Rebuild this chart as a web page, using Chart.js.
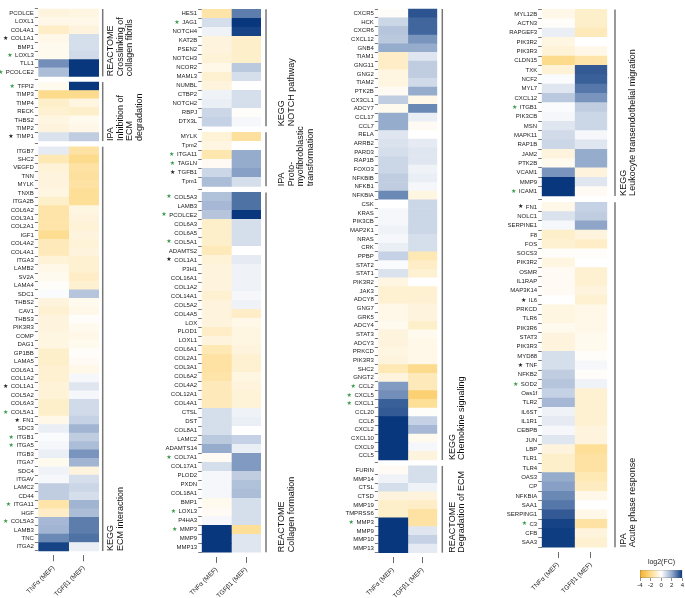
<!DOCTYPE html>
<html><head><meta charset="utf-8">
<script src="https://cdn.jsdelivr.net/npm/chart.js@4.4.1/dist/chart.umd.min.js"></script>
<style>
html,body{margin:0;padding:0;background:#fff;}
#wrap{position:relative;width:685px;height:598px;overflow:hidden;background:#fff;}
canvas{position:absolute;top:0;}
</style></head><body><div id="wrap"></div>
<script>
// ---------- DATA ----------
const colLabels = ['TNFα (MEF)', 'TGFβ1 (MEF)'];
const legendTicks = [-4, -2, 0, 2, 4];
const greenStar = ['LOXL3','PCOLCE2','TFPI2','COL5A1','ITGB1','ITGA5','ITGA11','COL5A3','JAG1','TAGLN','COL7A1','MMP3','CCL2','CXCL5','CXCL1','ICAM1','SOD2','C3'];
const blackStar = ['COL1A1','TIMP1','FN1','TGFB1','IL6','TNF'];

// Panel 1
const crosslinkTitle = ['REACTOME','Crosslinking of','collagen fibrils'];
const crosslinkGenes = ['PCOLCE','LOXL1','COL4A1','COL1A1','BMP1','LOXL3','TLL1','PCOLCE2'];
const crosslinkTNF = [-0.6,-0.4,-1.0,-0.4,-0.3,-0.3,2.5,1.6];
const crosslinkTGF = [-0.5,-0.4,-0.6,0.8,0.8,0.9,4,4];

const inhibTitle = ['IPA','Inhibition of','ECM','degradation'];
const inhibGenes = ['TFPI2','TIMP3','TIMP4','RECK','THBS2','TIMP2','TIMP1'];
const inhibTNF = [-0.3,-2.0,-0.9,-0.8,-0.5,-0.6,0.7];
const inhibTGF = [4,-2.0,-0.5,-0.9,-0.3,-0.4,1.2];

const ecmTitle = ['KEGG','ECM interaction'];
const ecmGenes = ['ITGB7','SHC2','VEGFD','TNN','MYLK','TNXB','ITGA2B','COL6A2','COL3A1','COL2A1','IGF1','COL4A2','COL4A1','ITGA3','LAMB2','SV2A','LAMA4','SDC1','THBS2','CAV1','THBS3','PIK3R3','COMP','DAG1','GP1BB','LAMA5','COL6A1','COL1A2','COL1A1','COL5A2','COL6A3','COL5A1','FN1','SDC3','ITGB1','ITGA5','ITGB3','ITGA7','SDC4','ITGAV','LAMC2','CD44','ITGA11','HGF','COL5A3','LAMB3','TNC','ITGA2'];
const ecmTNF = [0.5,-1.3,-0.7,-0.6,-0.6,-0.5,-0.9,-1.5,-1.5,-1.5,-1.9,-1.2,-1.2,-0.7,-0.4,-0.3,-0.1,0.1,-0.6,-0.8,-0.6,-0.6,-0.5,-0.5,-0.9,-0.9,-0.8,-0.8,-0.7,-0.7,-0.9,-0.9,-0.4,0.4,0.1,0.2,0.4,-0.3,0.3,0.2,1.2,1.2,-1.5,-1.0,1.7,1.8,2.6,3.8];
const ecmTGF = [-1.6,-2.0,-1.6,-1.7,-1.6,-1.8,-1.8,-0.5,-0.6,-0.7,-0.6,-0.7,-0.6,-0.8,-0.8,-1.0,-0.8,1.4,-0.3,-0.4,-0.1,-0.3,-0.4,-0.3,-0.1,-0.2,-0.4,0.2,0.6,0.2,0.9,0.9,1.1,1.8,1.2,1.6,2.4,1.8,-0.6,0.8,1.0,0.8,1.8,1.6,2.8,2.8,3.0,0.4];

// Panel 2
const notchTitle = ['KEGG','NOTCH pathway'];
const notchGenes = ['HES1','JAG1','NOTCH4','KAT2B','PSEN2','NOTCH3','NCOR2','MAML3','NUMBL','CTBP2','NOTCH2','RBPJ','DTX3L'];
const notchTNF = [-1.5,0.8,0.3,-0.6,-0.6,-0.7,-0.4,-0.8,-0.6,0.3,0.4,1.0,1.1];
const notchTGF = [2.8,4,3.8,-0.9,-0.9,-0.9,1.3,0.8,0,0.8,0.8,-0.1,0.2];

const protoTitle = ['IPA','Proto-','myofibroblastic','transformation'];
const protoGenes = ['MYLK','Tpm2','ITGA11','TAGLN','TGFB1','Tpm1'];
const protoTNF = [-0.7,-0.5,-1.4,-0.2,1.0,1.6];
const protoTGF = [-1.7,0,2.0,2.0,2.2,0.8];

const collagenTitle = ['REACTOME','Collagen formation'];
const collagenGenes = ['COL5A3','LAMB3','PCOLCE2','COL6A3','COL6A5','COL5A1','ADAMTS2','COL1A1','P3H1','COL16A1','COL1A2','COL14A1','COL5A2','COL4A5','LOX','PLOD1','LOXL1','COL6A1','COL2A1','COL3A1','COL6A2','COL4A2','COL12A1','COL4A1','CTSL','DST','COL8A1','LAMC2','ADAMTS14','COL7A1','COL17A1','PLOD2','PXDN','COL18A1','BMP1','LOXL3','P4HA3','MMP3','MMP9','MMP13'];
const collagenTNF = [1.5,1.7,1.4,-0.9,-0.9,-0.9,-1.2,-0.7,-0.6,-0.6,-0.6,-0.8,-0.6,-0.6,-0.6,-1.0,-0.6,-1.3,-1.6,-1.6,-1.5,-1.2,-1.2,-1.2,0.8,0.8,0.8,1.3,2.0,-0.2,0.8,0.2,0.2,0.2,-0.3,-0.2,0.2,4,4,4];
const collagenTGF = [3.0,3.0,4,0.8,0.8,0.8,0,0.5,0.3,0.3,0.3,0.2,0.3,-1.0,-0.4,-0.5,-0.5,-0.6,-0.8,-0.8,-0.5,-0.6,-0.7,-0.7,0.3,0.4,0,1.1,0.4,2.3,2.3,1.2,1.5,1.6,0.8,0.8,0.8,-1.8,0.6,0.6];

// Panel 3
const chemoTitle = ['KEGG','Chemokine signaling'];
const chemoGenes = ['CXCR5','HCK','CXCR6','CXCL12','GNB4','TIAM1','GNG11','GNG2','TIAM2','PTK2B','CX3CL1','ADCY7','CCL17','CCL7','RELA','ARRB2','PARD3','RAP1B','FOXO3','NFKBIB','NFKB1','NFKBIA','CSK','KRAS','PIK3CB','MAP2K1','NRAS','CRK','PPBP','STAT2','STAT1','PIK3R2','JAK3','ADCY8','GNG7','GRK5','ADCY4','STAT3','ADCY3','PRKCD','PIK3R3','SHC2','GNGT2','CCL2','CXCL5','CXCL1','CCL20','CCL8','CXCL2','CXCL10','CXCL9','CCL5'];
const chemoTNF = [-0.1,1.0,1.4,1.3,2.0,-1.0,-1.0,-0.5,-0.5,-0.2,1.2,-0.3,2.0,2.0,0.6,0.7,0.8,1.0,1.0,1.2,1.2,2.6,0,0.2,0.2,0.3,0.2,0.4,1.1,0.1,0.7,-0.5,-0.8,-0.8,-0.4,-0.4,-0.3,-0.6,-0.6,-0.5,-0.6,-1.3,-0.6,2.3,2.5,3.3,3.4,4,4,4,4,4];
const chemoTGF = [3.5,3.2,3.2,2.4,2.0,0.6,1.2,1.2,0.9,2.0,-0.4,2.6,0.4,-0.2,0,0.5,0.6,0.6,0.3,0.4,0.2,-0.5,1.0,1.0,1.0,1.0,0.8,0.8,-1.3,-1.0,-0.8,0,-0.8,-0.8,-0.6,-0.6,-0.9,-0.3,-0.4,-0.4,-0.4,-2.0,-1.2,-1.2,-2.5,-1.8,-0.1,1.1,1.7,-0.3,0.2,-0.6];

const degradTitle = ['REACTOME','Degradation of ECM'];
const degradGenes = ['FURIN','MMP14','CTSL','CTSD','MMP19','TMPRSS6','MMP3','MMP9','MMP10','MMP13'];
const degradTNF = [-0.2,0.3,0.8,-0.6,-0.9,-0.9,4,4,4,4];
const degradTGF = [0.8,0.8,0.3,-0.6,-1.0,-1.6,-1.6,0.6,1.1,0.5];

// Panel 4
const leukoTitle = ['KEGG','Leukocyte transendothelial migration'];
const leukoGenes = ['MYL12B','ACTN3','RAPGEF3','PIK3R2','PIK3R3','CLDN15','TXK','NCF2','MYL7','CXCL12','ITGB1','PIK3CB','MSN','MAPK11','RAP1B','JAM2','PTK2B','VCAM1','MMP9','ICAM1'];
const leukoTNF = [-0.4,-0.1,0.4,-0.5,-0.7,-2.0,-0.7,0.1,0.6,1.3,0.1,0.2,0.6,0.9,1.0,-0.6,-0.3,2.4,4,4];
const leukoTGF = [-0.9,-0.9,-1.2,0,-0.4,-1.5,3.4,3.3,2.9,2.4,1.2,1.0,1.0,0.2,0.6,2.0,2.0,-0.6,0.6,-0.2];

const acuteTitle = ['IPA','Acute phase response'];
const acuteGenes = ['FN1','NOLC1','SERPINE1','F8','FOS','SOCS3','PIK3R2','OSMR','IL1RAP','MAP3K14','IL6','PRKCD','TLR6','PIK3R6','STAT3','PIK3R3','MYD88','TNF','NFKB2','SOD2','Oas1f','TLR2','IL6ST','IL1R1','CEBPB','JUN','LBP','TLR1','TLR4','OAS3','CP','NFKBIA','SAA1','SERPING1','C3','CFB','SAA3'];
const acuteTNF = [-0.4,0.7,0.2,-0.9,-0.8,-0.1,-0.5,-0.2,-0.2,-0.2,0,-0.5,-0.5,-0.3,-0.6,-0.6,0.8,0.8,1.2,1.4,1.1,1.7,0.3,0.5,0.2,0.6,-0.6,-0.9,-0.9,2.0,2.2,2.6,2.9,3.4,3.8,3.9,3.9];
const acuteTGF = [1.1,1.2,2.1,-0.6,-1.0,-0.1,0,-0.8,-0.8,-0.6,-0.8,-0.4,-0.4,-0.4,-0.3,-0.3,-0.1,0.2,-0.1,0.3,-0.8,-0.8,-0.8,-0.8,-0.6,-0.6,-1.8,-1.6,-1.6,-1.3,-1.1,-0.4,0,-0.4,-1.6,-0.6,-0.8];

// ---------- STYLE / LAYOUT ----------
const FONT = '"Liberation Sans", Arial, Helvetica, sans-serif';
const GAP = 0.68;
const STOPS = [[-4,[244,177,42]],[-2,[253,219,140]],[0,[255,255,255]],[2,[150,172,205]],[4,[8,55,125]]];
function colorFor(v){
  v = Math.max(-4, Math.min(4, v));
  for (let i=0;i<STOPS.length-1;i++){
    const [a,ca]=STOPS[i],[b,cb]=STOPS[i+1];
    if (v>=a && v<=b){
      const t=(v-a)/(b-a);
      const c=ca.map((x,k)=>Math.round(x+(cb[k]-x)*t));
      return `rgb(${c[0]},${c[1]},${c[2]})`;
    }
  }
  return '#fff';
}

const panels = [
  {left:0, width:162, yW:38.3, padRight:63, top:0.8, xH:42.7, lineOff:3.7, textOff:8, groups:[
    {title:crosslinkTitle, genes:crosslinkGenes, tnf:crosslinkTNF, tgf:crosslinkTGF},
    {title:inhibTitle, genes:inhibGenes, tnf:inhibTNF, tgf:inhibTGF},
    {title:ecmTitle, genes:ecmGenes, tnf:ecmTNF, tgf:ecmTGF}]},
  {left:162, width:168, yW:39.7, padRight:69, top:3.4, xH:41.1, lineOff:5, textOff:16, groups:[
    {title:notchTitle, genes:notchGenes, tnf:notchTNF, tgf:notchTGF},
    {title:protoTitle, genes:protoGenes, tnf:protoTNF, tgf:protoTGF},
    {title:collagenTitle, genes:collagenGenes, tnf:collagenTNF, tgf:collagenTGF}]},
  {left:330, width:168, yW:48.3, padRight:60.7, top:4.3, xH:40.9, lineOff:5, textOff:10, groups:[
    {title:chemoTitle, genes:chemoGenes, tnf:chemoTNF, tgf:chemoTGF},
    {title:degradTitle, genes:degradGenes, tnf:degradTNF, tgf:degradTGF}]},
  {left:498, width:187, yW:43.7, padRight:77.7, top:4.6, xH:46, lineOff:7.7, textOff:8.5, groups:[
    {title:leukoTitle, genes:leukoGenes, tnf:leukoTNF, tgf:leukoTGF},
    {title:acuteTitle, genes:acuteGenes, tnf:acuteTNF, tgf:acuteTGF}]}
];

const wrap = document.getElementById('wrap');
function makeCanvas(left, top, w, h){
  const c = document.createElement('canvas');
  c.width = w; c.height = h;
  c.style.left = left+'px'; c.style.top = top+'px';
  c.style.width = w+'px'; c.style.height = h+'px';
  wrap.appendChild(c);
  return c;
}

function buildPanel(cfg){
  let off = 0; const rows = []; const gpos = [];
  cfg.groups.forEach((g,gi)=>{
    if (gi>0) off += GAP;
    const start = off;
    g.genes.forEach((name,i)=>rows.push({name, pos:off+i+0.5, tnf:g.tnf[i], tgf:g.tgf[i]}));
    off += g.genes.length;
    gpos.push({start, end:off, title:g.title});
  });
  const total = off;
  const TL = 3.5, TP = 1;
  const annot = {
    id:'annot',
    afterDraw(chart){
      const ctx = chart.ctx, ys = chart.scales.y, ca = chart.chartArea;
      ctx.save();
      ctx.textBaseline = 'middle'; ctx.textAlign = 'right';
      const labelRight = ca.left - TL - TP;
      rows.forEach(r=>{
        const g = greenStar.includes(r.name), k = blackStar.includes(r.name);
        if (!g && !k) return;
        ctx.font = '6px ' + FONT;
        const w = ctx.measureText(r.name).width;
        ctx.font = '6px "DejaVu Sans"';
        ctx.fillStyle = g ? '#3b9b4e' : '#222';
        ctx.fillText('★', labelRight - w - 2.5, ys.getPixelForValue(r.pos));
      });
      gpos.forEach(gp=>{
        const yt = ys.getPixelForValue(gp.start), yb = ys.getPixelForValue(gp.end);
        const lx = ca.right + cfg.lineOff;
        ctx.strokeStyle = '#777'; ctx.lineWidth = 1.5;
        ctx.beginPath(); ctx.moveTo(lx, yt); ctx.lineTo(lx, yb); ctx.stroke();
        ctx.save();
        ctx.translate(lx + cfg.textOff, yb);
        ctx.rotate(-Math.PI/2);
        ctx.font = '9px ' + FONT; ctx.fillStyle = '#111';
        ctx.textAlign = 'left'; ctx.textBaseline = 'middle';
        gp.title.forEach((t,j)=>ctx.fillText(t, 0, j*9.5));
        ctx.restore();
      });
      ctx.restore();
    }
  };
  const canvas = makeCanvas(cfg.left, 0, cfg.width, 598);
  new Chart(canvas, {
    type:'bar',
    data:{datasets:[
      {label:colLabels[0], data:rows.map(r=>({y:r.pos, x:[0,1]})), backgroundColor:rows.map(r=>colorFor(r.tnf))},
      {label:colLabels[1], data:rows.map(r=>({y:r.pos, x:[1,2]})), backgroundColor:rows.map(r=>colorFor(r.tgf))}
    ]},
    options:{
      responsive:false, animation:false, indexAxis:'y',
      layout:{padding:{top:cfg.top, right:cfg.padRight, left:0, bottom:0}},
      datasets:{bar:{categoryPercentage:1, barPercentage:1, borderWidth:0, grouped:false}},
      plugins:{legend:{display:false}, tooltip:{enabled:false}, title:{display:false}},
      scales:{
        y:{type:'linear', reverse:true, min:0, max:total,
          afterBuildTicks:s=>{ s.ticks = rows.map(r=>({value:r.pos})); },
          afterFit:s=>{ s.width = cfg.yW; },
          ticks:{autoSkip:false, padding:TP, font:{family:FONT, size:6}, color:'#222',
                 callback:(v,i)=>rows[i] ? rows[i].name : ''},
          grid:{drawOnChartArea:false, drawTicks:true, tickLength:TL, tickColor:'#444', lineWidth:0.7},
          border:{display:false}},
        x:{type:'linear', position:'bottom', min:0, max:2,
          afterBuildTicks:s=>{ s.ticks = [{value:0.5},{value:1.5}]; },
          afterFit:s=>{ s.height = cfg.xH; },
          ticks:{autoSkip:false, minRotation:45, maxRotation:45, padding:3,
                 font:{family:FONT, size:6.5}, color:'#222',
                 callback:(v,i)=>colLabels[i]},
          grid:{drawOnChartArea:false, drawTicks:true, tickLength:6, tickColor:'#444', lineWidth:0.8},
          border:{display:false}}
      }
    },
    plugins:[annot]
  });
}
panels.forEach(buildPanel);

// ---------- COLOR LEGEND ----------
(function(){
  const canvas = makeCanvas(626, 556, 59, 42);
  new Chart(canvas, {
    type:'bar',
    data:{labels:[''], datasets:[{data:[[legendTicks[0], legendTicks[legendTicks.length-1]]],
      backgroundColor:(ctx)=>{
        const ca = ctx.chart.chartArea; if (!ca) return '#fff';
        const g = ctx.chart.ctx.createLinearGradient(ca.left,0,ca.right,0);
        STOPS.forEach(([v,c])=>g.addColorStop((v+4)/8, `rgb(${c[0]},${c[1]},${c[2]})`));
        return g;
      }, borderWidth:0.6, borderColor:'#555', borderSkipped:false}]},
    options:{
      responsive:false, animation:false, indexAxis:'y',
      layout:{padding:{top:0.5, left:14, right:2, bottom:0}},
      datasets:{bar:{categoryPercentage:1, barPercentage:1}},
      plugins:{legend:{display:false}, tooltip:{enabled:false},
        title:{display:true, text:'log2(FC)', font:{family:FONT, size:7, weight:'normal'}, color:'#222', padding:{top:1, bottom:4}}},
      scales:{
        y:{display:false},
        x:{type:'linear', min:-4, max:4,
          afterBuildTicks:s=>{ s.ticks = legendTicks.map(v=>({value:v})); },
          afterFit:s=>{ s.height = 20; },
          ticks:{font:{family:FONT, size:6}, color:'#222', padding:1, maxRotation:0, autoSkip:false},
          grid:{drawOnChartArea:false, tickLength:3, tickColor:'#444', lineWidth:0.6},
          border:{display:false}}
      }
    }
  });
})();
</script></body></html>
